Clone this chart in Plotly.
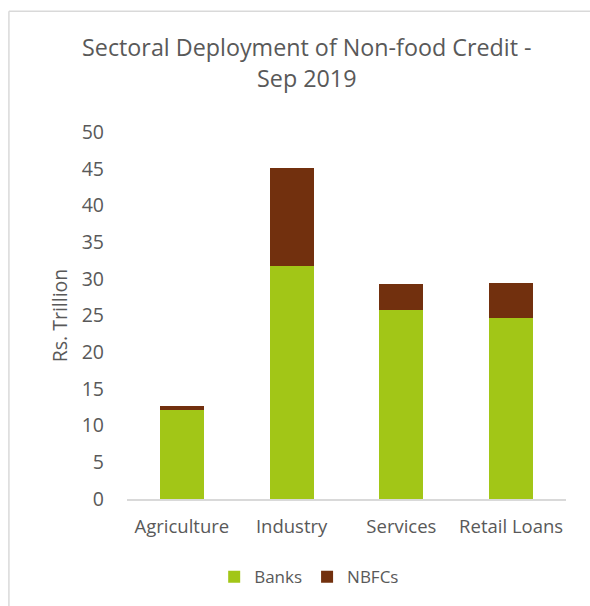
import plotly.graph_objects as go

categories = ["Agriculture", "Industry", "Services", "Retail Loans"]
banks = [12.1, 31.8, 25.8, 24.7]
nbfcs = [0.6, 13.3, 3.45, 4.7]
y_ticks = [0, 5, 10, 15, 20, 25, 30, 35, 40, 45, 50]

FONT = "Open Sans"
TXT = "#595959"

fig = go.Figure()
fig.add_trace(go.Bar(name="Banks", x=categories, y=banks, marker=dict(color="#A2C617", line=dict(width=0))))
fig.add_trace(go.Bar(name="NBFCs", x=categories, y=nbfcs, marker=dict(color="#72300E", line=dict(width=0))))

fig.update_layout(
    barmode="stack",
    bargap=0.6,
    width=590, height=606,
    margin=dict(l=127, r=24, t=132, b=106),
    paper_bgcolor="white", plot_bgcolor="white",
    font=dict(family=FONT, color=TXT, size=18),
    title=dict(text="Sectoral Deployment of Non-food Credit -<br>Sep 2019",
               x=0.52, xanchor="center", y=0.907, yanchor="top",
               font=dict(family=FONT, size=23.3, color=TXT)),
    legend=dict(orientation="h", x=0.415, xanchor="center", y=-0.21, yanchor="middle",
                font=dict(size=17, color=TXT), traceorder="normal", itemwidth=30),
    xaxis=dict(showline=True, linecolor="#D9D9D9", linewidth=1.5, ticks="",
               ticklabelstandoff=10,
               tickfont=dict(size=18.5, color=TXT)),
    yaxis=dict(range=[0, 50], tickvals=y_ticks, showgrid=False, zeroline=False,
               showline=False, ticks="", ticklabelstandoff=22,
               tickfont=dict(size=19.5, color=TXT),
               title=dict(text="Rs. Trillion", font=dict(size=19.5, color=TXT), standoff=8)),
    shapes=[
        dict(type="line", xref="paper", yref="paper", x0=-0.269, x1=2, y0=1.329, y1=1.329,
             line=dict(color="#D9D9D9", width=1.5)),
        dict(type="line", xref="paper", yref="paper", x0=-0.269, x1=-0.269, y0=1.329, y1=-2,
             line=dict(color="#D9D9D9", width=1.5)),
    ],
)

fig.write_html("out.html")
